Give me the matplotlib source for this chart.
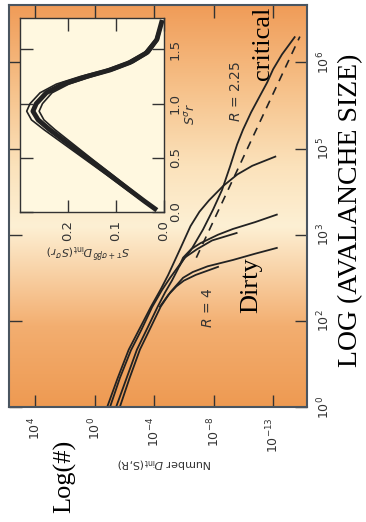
import numpy as np
import matplotlib
matplotlib.use('Agg')
import matplotlib.pyplot as plt
from matplotlib.colors import LinearSegmentedColormap
from matplotlib.ticker import NullLocator

# main plot, stored as log10 values: avalanche size S (vertical) and number D_int(S,R) (horizontal)
r225_logS = [0, 0.51, 0.99, 1.34, 1.74, 2.04, 2.25, 2.49, 2.74, 3.09, 3.44, 3.78, 4.19,
             4.57, 4.83, 5.13, 5.41, 5.65, 5.88, 6.14, 6.44]
r225_logD = [-1.04, -1.71, -2.45, -3.14, -3.87, -4.54, -5.08, -5.75, -6.5, -7.29, -7.97,
             -8.57, -9.11, -9.58, -9.98, -10.52, -11.1, -11.6, -12.0, -12.6, -13.45]

rB_logS = [0, 0.5, 1.0, 1.4, 1.75, 2.05, 2.3, 2.75, 3.15, 3.4, 3.6, 3.85, 4.05, 4.2, 4.36]
rB_logD = [-0.85, -1.55, -2.3, -3.1, -3.8, -4.45, -4.95, -5.75, -6.45, -7.05, -7.7, -8.65,
           -9.6, -10.6, -12.15]

rC_logS = [0, 0.5, 1.0, 1.4, 1.75, 2.0, 2.2, 2.4, 2.6, 2.75, 2.85, 3.0, 3.1, 3.22, 3.35]
rC_logD = [-1.45, -2.15, -2.85, -3.6, -4.25, -4.75, -5.2, -5.6, -5.95, -6.5, -7.1, -8.3,
           -9.3, -10.8, -12.25]

rC2_logS = [2.45, 2.6, 2.75, 2.9, 3.03]
rC2_logD = [-5.7, -6.05, -6.9, -7.9, -9.55]

r4_logS = [0, 0.5, 1.0, 1.4, 1.75, 2.0, 2.25, 2.35, 2.45, 2.56, 2.67, 2.77]
r4_logD = [-1.7, -2.35, -3.05, -3.8, -4.45, -5.1, -5.95, -6.6, -7.6, -9.3, -10.8, -12.25]

r4b_logS = [1.75, 1.95, 2.1, 2.2, 2.3, 2.44]
r4b_logD = [-4.4, -4.95, -5.5, -6.0, -6.8, -8.3]

crit_logS = [2.6, 6.45]
crit_logD = [-6.84, -13.8]

size_ticks = [0, 1.5, 3, 4.5, 6]
size_labels = ['$10^{0}$', '$10^{2}$', '$10^{3}$', '$10^{5}$', '$10^{6}$']
num_ticks = [4, 0, -4, -8, -12]
num_labels = ['$10^{4}$', '$10^{0}$', '$10^{-4}$', '$10^{-8}$', '$10^{-13}$']

# inset: scaling collapse
inset_s = [0.03, 0.1, 0.2, 0.34, 0.48, 0.62, 0.76, 0.85, 0.93, 1.0, 1.1, 1.18, 1.25, 1.31, 1.38, 1.47, 1.59, 1.75]
inset_d = [0.018, 0.04, 0.07, 0.112, 0.154, 0.196, 0.238, 0.262, 0.273, 0.266, 0.245, 0.21, 0.161, 0.112, 0.07, 0.035, 0.014, 0.004]
inset_d_hi = [0.02, 0.043, 0.075, 0.118, 0.162, 0.206, 0.25, 0.276, 0.286, 0.279, 0.258, 0.224, 0.174, 0.122, 0.077, 0.04, 0.017, 0.005]
inset_d_lo = [0.016, 0.037, 0.066, 0.106, 0.147, 0.187, 0.227, 0.25, 0.26, 0.253, 0.233, 0.198, 0.15, 0.104, 0.063, 0.03, 0.011, 0.003]

serif = 'Liberation Serif'
ink = '#222222'

W, H = 366, 522
fig = plt.figure(figsize=(W / 100, H / 100), dpi=100)
rect = [9 / W, 115 / H, 298 / W, 402 / H]

# orange background gradient
bg = fig.add_axes(rect, zorder=0)
cmap = LinearSegmentedColormap.from_list('slide', [
    (0.0, '#EE9A52'), (0.2, '#F3AE70'), (0.45, '#FDF0D4'),
    (0.6, '#FBE2BB'), (0.8, '#F6C088'), (1.0, '#F09C58')])
bg.imshow(np.linspace(0, 1, 256).reshape(-1, 1), aspect='auto', cmap=cmap,
          origin='lower', extent=[0, 1, 0, 1])
bg.axis('off')

ax = fig.add_axes(rect, zorder=1)
ax.patch.set_visible(False)
ax.set_xscale('log')
ax.set_yscale('log')

curves = [(r225_logS, r225_logD), (rB_logS, rB_logD), (rC_logS, rC_logD),
          (rC2_logS, rC2_logD), (r4_logS, r4_logD), (r4b_logS, r4b_logD)]
for s, d in curves:
    ax.plot(np.power(10.0, d), np.power(10.0, s), color=ink, lw=1.3)
ax.plot(np.power(10.0, crit_logD), np.power(10.0, crit_logS), color=ink, lw=1.2,
        linestyle=(0, (5, 4)))

ax.set_xlim(10 ** 5.75, 10 ** -14.28)
ax.set_ylim(1, 10 ** 7.0)
ax.set_xticks(np.power(10.0, num_ticks))
ax.set_xticklabels(num_labels, rotation=90)
ax.set_yticks(np.power(10.0, size_ticks))
ax.set_yticklabels(size_labels, rotation=90, va='center')
ax.xaxis.set_minor_locator(NullLocator())
ax.yaxis.set_minor_locator(NullLocator())
ax.tick_params(which='major', direction='in', length=9, width=1, color='#333333',
               top=True, bottom=True, left=True, right=True, labelsize=9,
               labelcolor='#333333', labelleft=False, labelright=True)
ax.tick_params(axis='x', pad=7)
ax.tick_params(axis='y', pad=6)
for sp in ax.spines.values():
    sp.set_color('#4a5560')
    sp.set_linewidth(1.5)

# inset
axin = fig.add_axes([20 / W, (H - 212) / H, 143.5 / W, 194 / H], zorder=2)
axin.set_facecolor('#FFF8E0')
axin.plot(inset_d_hi, inset_s, color=ink, lw=1.2)
axin.plot(inset_d_lo, inset_s, color=ink, lw=1.2)
axin.plot(inset_d, inset_s, color=ink, lw=3.5)
axin.set_xlim(0.30, 0.0)
axin.set_ylim(0, 1.79)
axin.set_xticks([0.2, 0.1, 0.0])
axin.set_xticklabels(['0.2', '0.1', '0.0'], rotation=90)
axin.set_yticks([0.0, 0.5, 1.0, 1.5])
axin.set_yticklabels(['0.0', '0.5', '1.0', '1.5'], rotation=90, va='center')
axin.tick_params(direction='in', length=9, width=1, color='#333333',
                 top=True, bottom=True, left=True, right=True, labelsize=9.5,
                 labelcolor='#333333', labelleft=False, labelright=True)
axin.tick_params(axis='x', pad=6)
axin.tick_params(axis='y', pad=4)
for sp in axin.spines.values():
    sp.set_color('#333333')
    sp.set_linewidth(1)


def put(x, y, txt, **kw):
    fig.text(x / W, 1 - y / H, txt, ha='center', va='center', **kw)


put(191, 114, r'$S^{\sigma}r$', rotation=90, fontsize=9, color='#333333')
put(88, 250, r'$S^{\tau+\sigma\beta\delta}D_{\rm int}(S^{\sigma}r)$', rotation=180,
    fontsize=8, color='#333333')
put(164, 463, r'Number $D_{\rm int}$(S,R)', rotation=180, fontsize=8, color='#333333')
put(236, 92, r'$R$ = 2.25', rotation=90, fontsize=10, color='#333333')
put(208, 308, r'$R$ = 4', rotation=90, fontsize=10, color='#333333')
put(263, 43, 'critical', rotation=90, fontsize=19, family=serif, color='black')
put(251, 285, 'Dirty', rotation=90, fontsize=19, family=serif, color='black')
put(351, 210, 'LOG (AVALANCHE SIZE)', rotation=90, fontsize=20, family=serif, color='black')
put(65, 476, 'Log(#)', rotation=90, fontsize=19, family=serif, color='black')

fig.savefig('out.png', dpi=100)
